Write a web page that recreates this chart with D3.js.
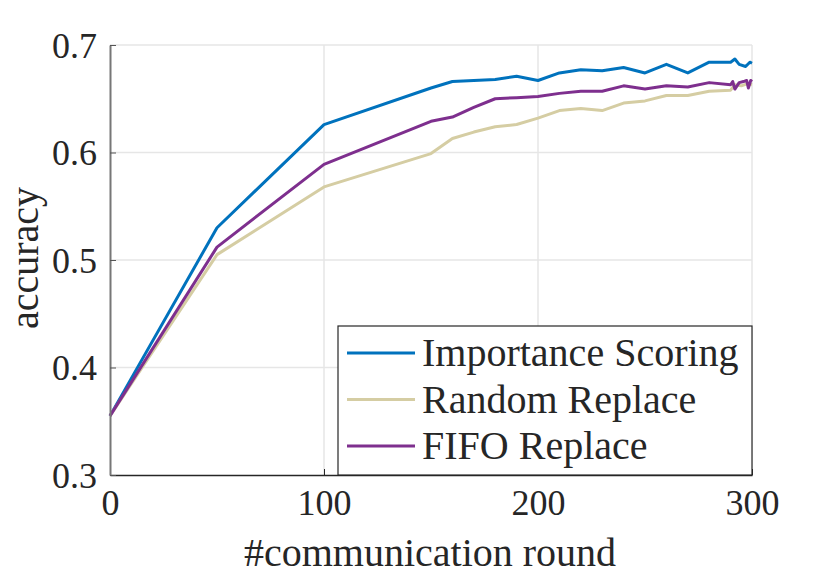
<!DOCTYPE html>
<html>
<head>
<meta charset="utf-8">
<script src="https://cdn.jsdelivr.net/npm/d3@7"></script>
<style>
  body { margin: 0; background: #fff; }
  svg { display: block; }
  text { font-family: "Liberation Serif", "Times New Roman", serif; fill: #262626; }
</style>
</head>
<body>
<div id="chart"></div>
<script>
// rounds at which accuracy was recorded
const rounds = [0, 50, 100, 150, 160, 170, 180, 190, 200, 210, 220, 230, 240, 250, 260, 270, 280, 290, 292, 294, 297, 299, 300];
const importanceScoring = [0.355, 0.530, 0.626, 0.660, 0.666, 0.667, 0.668, 0.671, 0.667, 0.674, 0.677, 0.676, 0.679, 0.674, 0.682, 0.674, 0.684, 0.684, 0.687, 0.682, 0.680, 0.684, 0.683];

const randomRounds = [0, 50, 100, 150, 160, 170, 180, 190, 200, 210, 220, 230, 240, 250, 260, 270, 280, 290, 292, 295, 298, 300];
const randomReplace = [0.355, 0.505, 0.568, 0.599, 0.613, 0.619, 0.624, 0.626, 0.632, 0.639, 0.641, 0.639, 0.646, 0.648, 0.653, 0.653, 0.657, 0.658, 0.663, 0.662, 0.664, 0.663];

const fifoRounds = [0, 50, 100, 150, 160, 170, 180, 190, 200, 210, 220, 230, 240, 250, 260, 270, 280, 290, 291, 292, 294, 296, 297.5, 298.3, 299.4, 300];
const fifoReplace = [0.355, 0.512, 0.589, 0.629, 0.633, 0.642, 0.650, 0.651, 0.652, 0.655, 0.657, 0.657, 0.662, 0.659, 0.662, 0.661, 0.665, 0.663, 0.666, 0.659, 0.665, 0.666, 0.667, 0.660, 0.667, 0.666];

const xTicks = [0, 100, 200, 300];
const yTicks = [0.3, 0.4, 0.5, 0.6, 0.7];

const seriesNames = ['Importance Scoring', 'Random Replace', 'FIFO Replace'];
const seriesColors = ['#0072BD', '#D5CDA3', '#7E2F8E'];

const width = 830;
const height = 577;
const margin = { top: 45, right: 78, bottom: 102, left: 110 };

const series = [
    { name: seriesNames[0], color: seriesColors[0], xs: rounds, ys: importanceScoring },
    { name: seriesNames[1], color: seriesColors[1], xs: randomRounds, ys: randomReplace },
    { name: seriesNames[2], color: seriesColors[2], xs: fifoRounds, ys: fifoReplace },
];

const svg = d3.select('#chart')
    .append('svg')
    .attr('width', width)
    .attr('height', height);

const xScale = d3.scaleLinear()
    .domain([0, 300])
    .range([margin.left, width - margin.right]);

const yScale = d3.scaleLinear()
    .domain([0.3, 0.7])
    .range([height - margin.bottom, margin.top]);

// gridlines first so they sit under everything
const grid = svg.append('g').attr('class', 'grid');
grid.selectAll('line.gx')
    .data(xTicks.slice(1))
    .join('line')
    .attr('x1', (d) => xScale(d)).attr('x2', (d) => xScale(d))
    .attr('y1', yScale(0.3)).attr('y2', yScale(0.7))
    .attr('stroke', '#e6e6e6').attr('stroke-width', 1.5);
grid.selectAll('line.gy')
    .data(yTicks.slice(1))
    .join('line')
    .attr('x1', xScale(0)).attr('x2', xScale(300))
    .attr('y1', (d) => yScale(d)).attr('y2', (d) => yScale(d))
    .attr('stroke', '#e6e6e6').attr('stroke-width', 1.5);

// series lines
const line = d3.line()
    .x((d) => xScale(d[0]))
    .y((d) => yScale(d[1]));

svg.append('g').selectAll('path')
    .data(series)
    .join('path')
    .attr('d', (s) => line(s.xs.map((x, i) => [x, s.ys[i]])))
    .attr('fill', 'none')
    .attr('stroke', (s) => s.color)
    .attr('stroke-width', 3)
    .attr('stroke-linejoin', 'round');

// axes, ticks pointing inward
const xAxis = svg.append('g')
    .attr('transform', `translate(0, ${height - margin.bottom})`)
    .call(d3.axisBottom(xScale).tickValues(xTicks).tickSize(-6).tickPadding(14).tickSizeOuter(0));

const yAxis = svg.append('g')
    .attr('transform', `translate(${margin.left}, 0)`)
    .call(d3.axisLeft(yScale).tickValues(yTicks).tickSize(-6).tickPadding(13).tickSizeOuter(0).tickFormat(d3.format('.1f')));

xAxis.select('.domain').attr('stroke', '#262626').attr('stroke-width', 1.5);
xAxis.selectAll('.tick line').attr('stroke', '#262626');
xAxis.selectAll('text')
    .style('font-size', '36px')
    .style('font-family', '"Liberation Serif", serif')
    .attr('fill', '#262626')
    .attr('dy', '0.72em');

yAxis.select('.domain').attr('stroke', '#777').attr('stroke-width', 2);
yAxis.selectAll('.tick line').attr('stroke', '#555');
yAxis.selectAll('text')
    .style('font-size', '36px')
    .style('font-family', '"Liberation Serif", serif')
    .attr('fill', '#262626')
    .attr('dy', '0.34em');

// axis labels
svg.append('text')
    .attr('x', 430)
    .attr('y', 566)
    .attr('text-anchor', 'middle')
    .style('font-size', '40px')
    .text('#communication round');

svg.append('text')
    .attr('transform', 'translate(38, 258) rotate(-90)')
    .attr('text-anchor', 'middle')
    .style('font-size', '40px')
    .text('accuracy');

// legend in the lower right corner
const legend = svg.append('g').attr('class', 'legend');
legend.append('rect')
    .attr('x', 338).attr('y', 326)
    .attr('width', 414).attr('height', 149)
    .attr('fill', '#fff')
    .attr('stroke', '#262626')
    .attr('stroke-width', 1.2);

const rows = legend.selectAll('g.row')
    .data(series)
    .join('g')
    .attr('transform', (d, i) => `translate(0, ${353 + i * 46.5})`);

rows.append('line')
    .attr('x1', 347).attr('x2', 415)
    .attr('y1', 0).attr('y2', 0)
    .attr('stroke', (d) => d.color)
    .attr('stroke-width', 3);

rows.append('text')
    .attr('x', 422)
    .attr('y', 13)
    .style('font-size', '40px')
    .attr('fill', '#000')
    .text((d) => d.name);
</script>
</body>
</html>
